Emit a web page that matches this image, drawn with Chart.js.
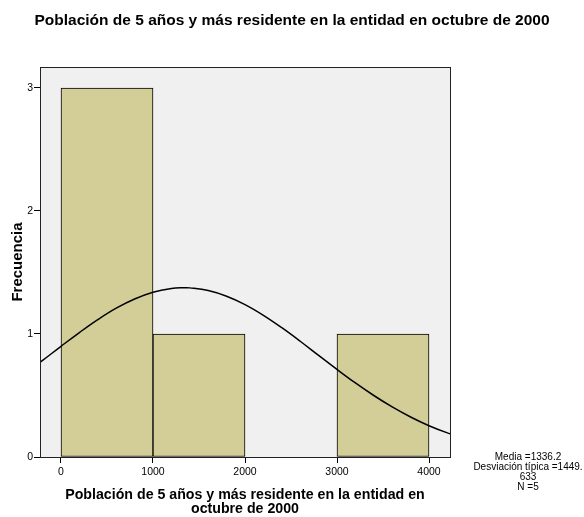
<!DOCTYPE html>
<html>
<head>
<meta charset="utf-8">
<script src="https://cdn.jsdelivr.net/npm/chart.js@4.4.1/dist/chart.umd.min.js"></script>
<style>
html,body{margin:0;padding:0;background:#fff;}
#wrap{width:584px;height:517px;position:relative;}
</style>
</head>
<body>
<div id="wrap"><canvas id="c" width="584" height="517"></canvas></div>
<script>
// Histogram bins (bin centers) and frequencies
const binCenters = [500, 1500, 2500, 3500];
const frequencies = [3, 1, 0, 1];
// Normal curve (x value, frequency height)
const curveX = [-400, -200, 0, 200, 400, 600, 800, 1000, 1200, 1336, 1400, 1600, 1800, 2000, 2200, 2400, 2600, 2800, 3000, 3200, 3400, 3600, 3800, 4000, 4200, 4400];
const curveY = [0.672, 0.785, 0.900, 1.012, 1.117, 1.210, 1.285, 1.340, 1.370, 1.376, 1.375, 1.353, 1.307, 1.239, 1.152, 1.051, 0.941, 0.826, 0.712, 0.602, 0.500, 0.407, 0.325, 0.254, 0.196, 0.148];
const xTicks = [0, 1000, 2000, 3000, 4000];
const yTicks = [0, 1, 2, 3];
const titleText = 'Población de 5 años y más residente en la entidad en octubre de 2000';
const xTitleLines = ['Población de 5 años y más residente en la entidad en', 'octubre de 2000'];
const yTitleText = 'Frecuencia';
const statLines = ['Media =1336.2', 'Desviación típica =1449.', '633', 'N =5'];

const FONT = '"Liberation Sans", Arial, Helvetica, sans-serif';

const decor = {
  id: 'decor',
  beforeDatasetsDraw(chart) {
    const {ctx, chartArea: a} = chart;
    ctx.save();
    ctx.fillStyle = '#f0f0f0';
    ctx.fillRect(a.left, a.top, a.right - a.left, a.bottom - a.top);
    ctx.restore();
  },
  afterDraw(chart) {
    const {ctx, chartArea: a} = chart;
    ctx.save();
    ctx.strokeStyle = '#222';
    ctx.lineWidth = 1;
    ctx.strokeRect(Math.round(a.left) + 0.5, Math.round(a.top) + 0.5, Math.round(a.right - a.left), Math.round(a.bottom - a.top));
    ctx.fillStyle = '#000';
    ctx.textAlign = 'center';
    ctx.textBaseline = 'middle';
    ctx.font = 'bold 15.5px ' + FONT;
    ctx.fillText(titleText, 292, 21);
    ctx.font = 'bold 14.2px ' + FONT;
    const cx = (a.left + a.right) / 2;
    ctx.fillText(xTitleLines[0], cx, 495);
    ctx.fillText(xTitleLines[1], cx, 509);
    ctx.save();
    ctx.translate(18, (a.top + a.bottom) / 2);
    ctx.rotate(-Math.PI / 2);
    ctx.font = 'bold 15px ' + FONT;
    ctx.fillText(yTitleText, 0, 0);
    ctx.restore();
    ctx.font = '10px ' + FONT;
    statLines.forEach((t, i) => ctx.fillText(t, 528, 457.5 + i * 10));
    ctx.restore();
  }
};

new Chart(document.getElementById('c'), {
  type: 'bar',
  data: {
    datasets: [
      {
        type: 'line',
        data: curveX.map((x, i) => ({x: x, y: curveY[i]})),
        borderColor: '#000',
        borderWidth: 1.5,
        pointRadius: 0,
        tension: 0.4,
        fill: false
      },
      {
        type: 'bar',
        data: binCenters.map((x, i) => ({x: x, y: frequencies[i]})),
        backgroundColor: '#d3ce98',
        borderColor: '#000',
        borderWidth: 1,
        borderSkipped: false,
        barPercentage: 1,
        categoryPercentage: 1
      }
    ]
  },
  options: {
    responsive: false,
    animation: false,
    devicePixelRatio: 1,
    layout: {padding: {top: 67, right: 134, left: 0, bottom: 0}},
    plugins: {legend: {display: false}, tooltip: {enabled: false}, title: {display: false}},
    scales: {
      x: {
        type: 'linear',
        offset: false,
        min: -228.26,
        max: 4228.26,
        afterBuildTicks(s) { s.ticks = xTicks.map(v => ({value: v})); },
        afterFit(s) { s.height = 60; },
        grid: {display: true, offset: false, drawOnChartArea: false, drawTicks: true, tickLength: 6, color: '#000'},
        border: {display: true, color: '#000'},
        ticks: {color: '#000', font: {family: FONT, size: 10.5}, padding: 3, maxRotation: 0, callback: v => String(v)}
      },
      y: {
        type: 'linear',
        min: 0,
        max: 3.1707,
        afterBuildTicks(s) { s.ticks = yTicks.map(v => ({value: v})); },
        afterFit(s) { s.width = 40; },
        grid: {display: true, drawOnChartArea: false, drawTicks: true, tickLength: 6, color: '#000'},
        border: {display: true, color: '#000'},
        ticks: {color: '#000', font: {family: FONT, size: 10.5}, padding: 1, callback: v => String(v)}
      }
    }
  },
  plugins: [decor]
});
</script>
</body>
</html>
